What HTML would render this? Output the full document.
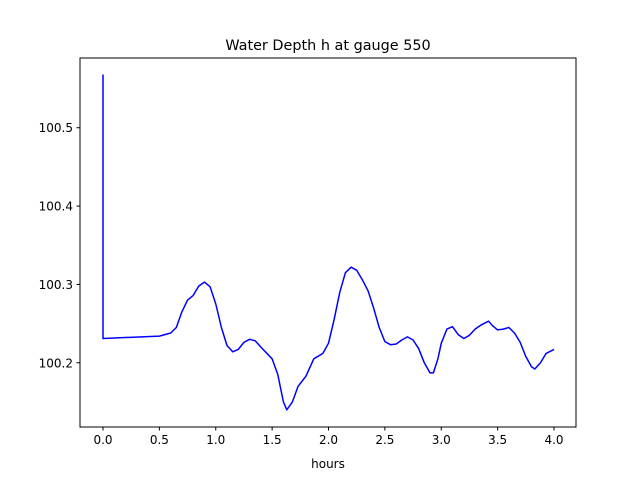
<!DOCTYPE html>
<html><head><meta charset="utf-8"><style>
body{margin:0;background:#fff;}
svg text{font-family:"DejaVu Sans","Liberation Sans",sans-serif;}
</style></head><body>
<svg id="chart" width="640" height="480">
<rect width="640" height="480" fill="#fff"/>
<text x="328" y="50" text-anchor="middle" font-size="14.4">Water Depth h at gauge 550</text>
<g id="plot"></g>
<rect x="80" y="58" width="496" height="369" fill="none" stroke="#000" stroke-width="1"/>
<text x="328" y="468" text-anchor="middle" font-size="12">hours</text>
</svg>
<script>
const xTicks=[0.0,0.5,1.0,1.5,2.0,2.5,3.0,3.5,4.0];
const yTicks=[100.2,100.3,100.4,100.5];
const hours=[0,0,0.5,0.6,0.65,0.7,0.75,0.8,0.85,0.9,0.95,1.0,1.05,1.1,1.15,1.2,1.25,1.3,1.35,1.4,1.5,1.55,1.6,1.63,1.68,1.73,1.8,1.87,1.95,2.0,2.05,2.1,2.15,2.2,2.25,2.3,2.35,2.4,2.45,2.5,2.55,2.6,2.65,2.7,2.75,2.8,2.85,2.9,2.93,2.97,3.0,3.05,3.1,3.15,3.2,3.25,3.3,3.35,3.42,3.45,3.5,3.55,3.6,3.65,3.7,3.75,3.8,3.83,3.88,3.93,4.0];
const depth=[100.568,100.231,100.234,100.238,100.245,100.265,100.280,100.286,100.298,100.303,100.297,100.275,100.245,100.222,100.214,100.217,100.226,100.230,100.228,100.220,100.205,100.185,100.150,100.140,100.150,100.170,100.183,100.205,100.212,100.225,100.255,100.290,100.315,100.322,100.318,100.306,100.292,100.270,100.245,100.227,100.223,100.224,100.229,100.233,100.229,100.218,100.200,100.187,100.187,100.205,100.225,100.243,100.246,100.236,100.231,100.235,100.243,100.248,100.253,100.248,100.242,100.243,100.245,100.238,100.226,100.208,100.195,100.192,100.200,100.212,100.217];
const X0=80,X1=576,Y0=58,Y1=427;
const xMin=-0.204,xMax=4.195,yMin=100.118,yMax=100.589;
const sx=v=>X0+(v-xMin)/(xMax-xMin)*(X1-X0);
const sy=v=>Y1-(v-yMin)/(yMax-yMin)*(Y1-Y0);
const NS="http://www.w3.org/2000/svg";
const g=document.getElementById('plot');
function mk(t,a){const e=document.createElementNS(NS,t);for(const k in a)e.setAttribute(k,a[k]);g.appendChild(e);return e;}
xTicks.forEach(v=>{
 const l=mk('line',{x1:sx(v),x2:sx(v),y1:Y1,y2:Y1+3.5,stroke:'#000'});
 
 
 const t=mk('text',{x:sx(v),y:Y1+17,'text-anchor':'middle','font-size':'12'});
 t.textContent=v.toFixed(1);
 
 
});
yTicks.forEach(v=>{
 const l=mk('line',{x1:X0-3.5,x2:X0,y1:sy(v),y2:sy(v),stroke:'#000'});
 
 
 const t=mk('text',{x:X0-7,y:sy(v)+4.5,'text-anchor':'end','font-size':'12'});
 t.textContent=v.toFixed(1);
 
 
});
const pts=hours.map((h,i)=>sx(h).toFixed(1)+','+sy(depth[i]).toFixed(1)).join(' ');
const p=mk('polyline',{points:pts,fill:'none',stroke:'#0000ff','stroke-width':'1.5','stroke-linejoin':'round'});


</script>
</body></html>
